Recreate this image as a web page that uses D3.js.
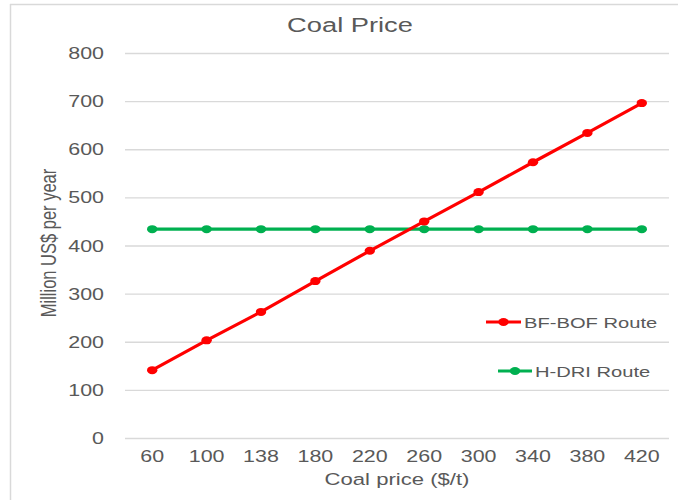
<!DOCTYPE html>
<html>
<head>
<meta charset="utf-8">
<script src="https://cdn.jsdelivr.net/npm/d3@7/dist/d3.min.js"></script>
<style>
  html, body { margin: 0; padding: 0; background: #fff; }
  svg { display: block; }
  text { font-family: "Liberation Sans", Arial, sans-serif; fill: #595959; }
</style>
</head>
<body>
<svg id="chart" width="678" height="500"></svg>
<script>
// Coal price scenarios ($/t)
const categories = ["60", "100", "138", "180", "220", "260", "300", "340", "380", "420"];
// Annual cost, million US$ per year
const bfBofValues = [141, 203, 262, 326, 389, 450, 511, 573, 634, 696];
const hDriValues  = [434, 434, 434, 434, 434, 434, 434, 434, 434, 434];
const yTicks = [0, 100, 200, 300, 400, 500, 600, 700, 800];

const seriesNames = ["BF-BOF Route", "H-DRI Route"];
const seriesColors = ["#FF0000", "#00B050"];

const svg = d3.select("#chart");
const stretch = 1.3; // text is drawn wide

const x = d3.scalePoint().domain(categories).range([125, 669]).padding(0.5);
const y = d3.scaleLinear().domain([0, 800]).range([438, 53]);

// Chart frame
svg.append("line").attr("x1", 10.5).attr("x2", 10.5).attr("y1", 4).attr("y2", 500)
  .attr("stroke", "#d9d9d9").attr("stroke-width", 1.5);
svg.append("line").attr("x1", 10).attr("x2", 678).attr("y1", 4.5).attr("y2", 4.5)
  .attr("stroke", "#d9d9d9").attr("stroke-width", 1.5);

function label(txt, px, py, size, anchor, rotate) {
  return svg.append("text")
    .attr("transform", `translate(${px},${py}) scale(${stretch},1)` + (rotate ? ` rotate(${rotate})` : ""))
    .attr("font-size", size)
    .attr("text-anchor", anchor)
    .text(txt);
}

// Title
label("Coal Price", 350, 32, 21, "middle");

// Y gridlines via axis
const yAxis = d3.axisLeft(y).tickValues(yTicks).tickSize(-(669 - 125)).tickFormat("");
const gy = svg.append("g").attr("transform", "translate(125,0)").call(yAxis);
gy.select(".domain").remove();
gy.selectAll(".tick line").attr("stroke", "#d9d9d9").attr("stroke-width", 1.3);

// Tick labels
yTicks.forEach(v => label(String(v), 104, y(v) + 6, 16.5, "end"));
categories.forEach(c => label(c, x(c), 462, 16.5, "middle"));

// Axis titles
label("Coal price ($/t)", 397, 485, 17, "middle");
label("Million US$ per year", 56, 243, 16.5, "middle", -90);

// Series lines and markers
const allSeries = [bfBofValues, hDriValues];
const line = d3.line().x((d, i) => x(categories[i])).y(d => y(d));

[1, 0].forEach(s => {
  const vals = allSeries[s];
  svg.append("path").datum(vals)
    .attr("d", line)
    .attr("fill", "none")
    .attr("stroke", seriesColors[s])
    .attr("stroke-width", 3.2)
    .attr("stroke-linejoin", "round");
  svg.selectAll(null).data(vals).enter().append("ellipse")
    .attr("cx", (d, i) => x(categories[i]))
    .attr("cy", d => y(d))
    .attr("rx", 5.2).attr("ry", 4)
    .attr("fill", seriesColors[s]);
});

// Legend
const legendItems = [
  { x0: 486, x1: 521, yy: 322, tx: 524 },
  { x0: 498, x1: 532, yy: 371, tx: 535 }
];
legendItems.forEach((li, i) => {
  svg.append("line").attr("x1", li.x0).attr("x2", li.x1).attr("y1", li.yy).attr("y2", li.yy)
    .attr("stroke", seriesColors[i]).attr("stroke-width", 3.2);
  svg.append("ellipse").attr("cx", (li.x0 + li.x1) / 2).attr("cy", li.yy)
    .attr("rx", 5.2).attr("ry", 4).attr("fill", seriesColors[i]);
  label(seriesNames[i], li.tx, li.yy + 6, 15.5, "start");
});
</script>
</body>
</html>
